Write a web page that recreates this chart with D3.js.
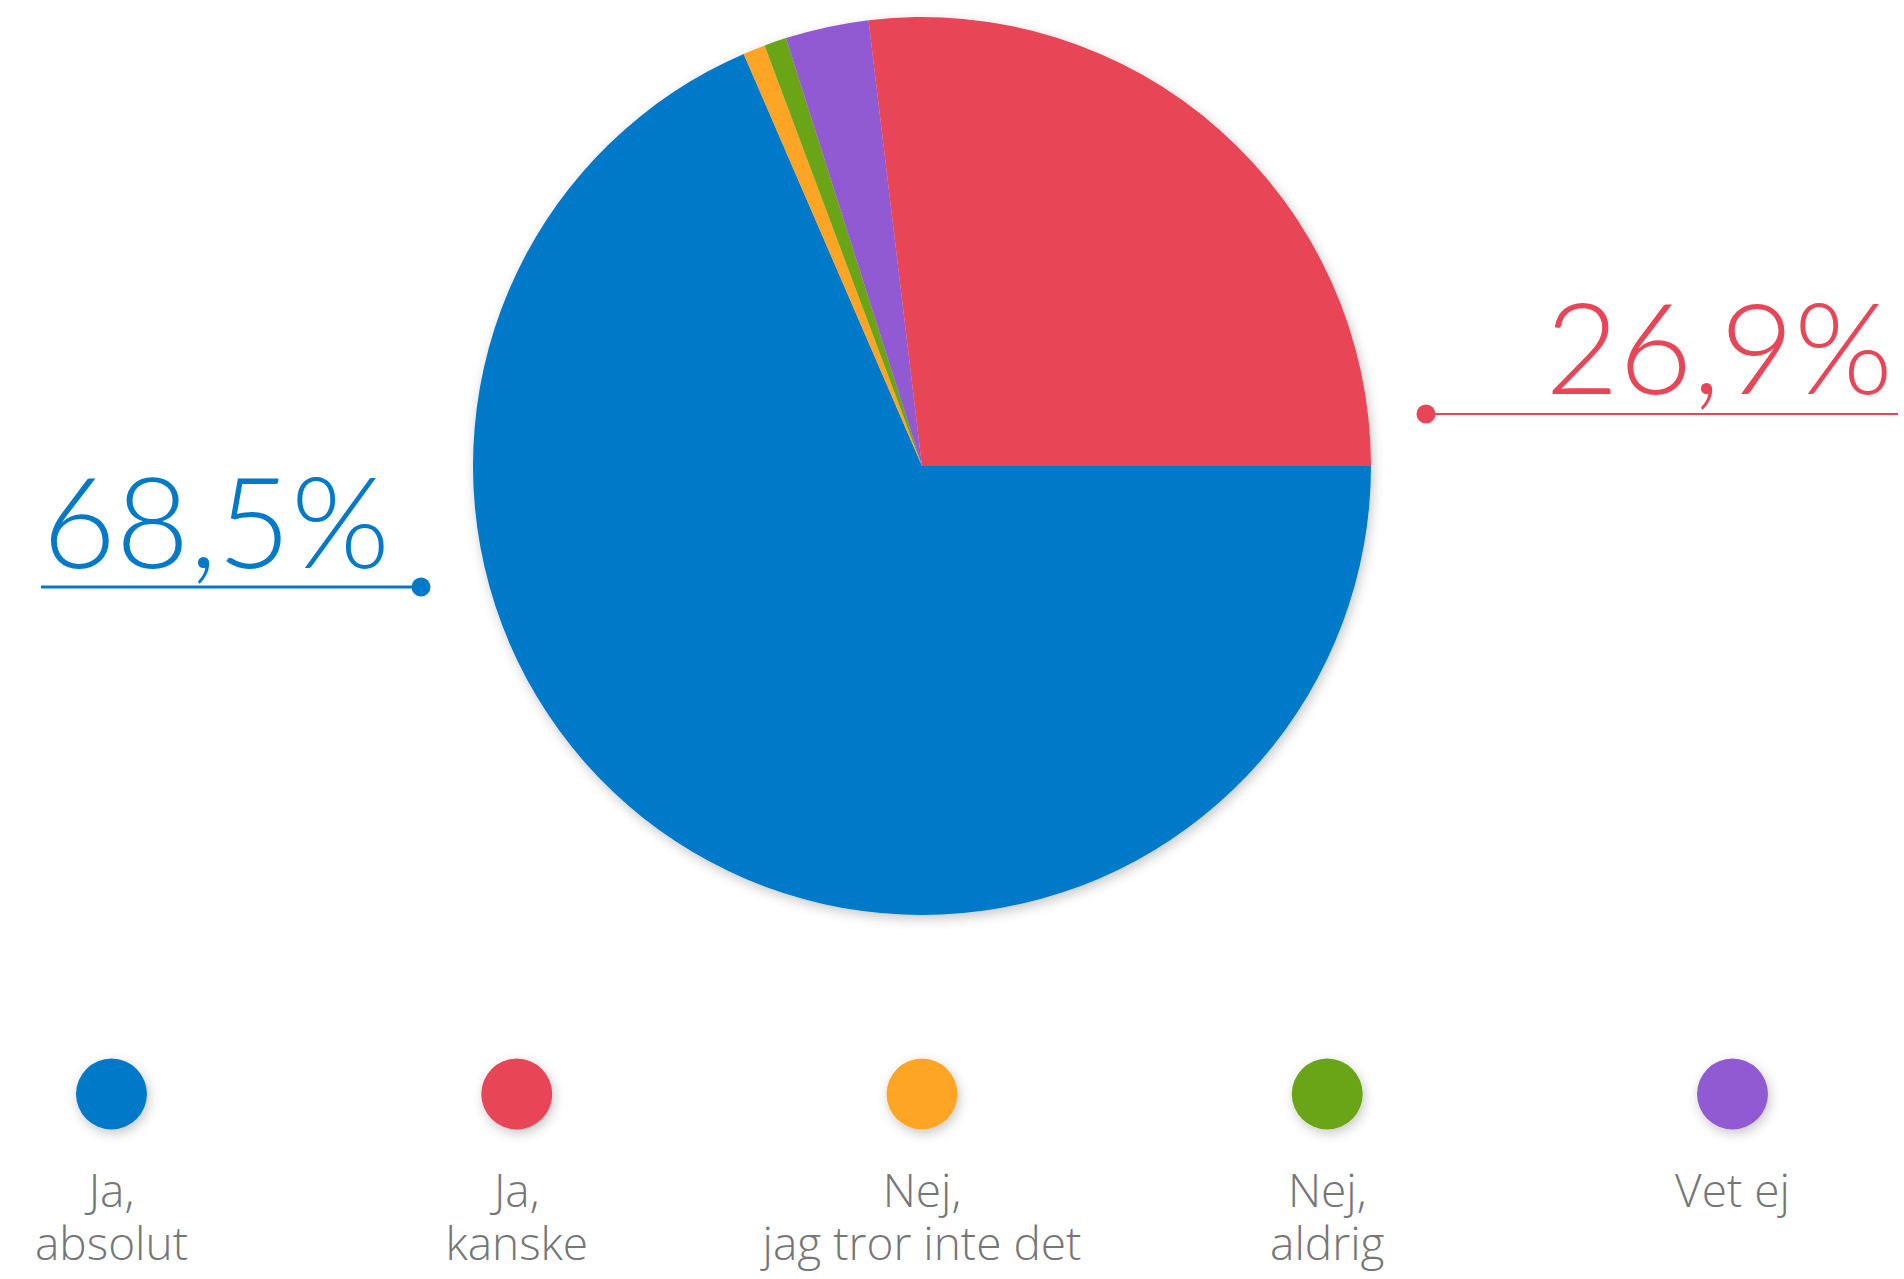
<!DOCTYPE html>
<html>
<head>
<meta charset="utf-8">
<script src="https://cdn.jsdelivr.net/npm/d3@7"></script>
<style>
  html, body { margin: 0; padding: 0; background: #fff; }
  svg { display: block; }
</style>
</head>
<body>
<div id="chart"></div>
<script>
// answers, in the order the slices run clockwise from 3 o'clock
const categories = ["Ja, absolut", "Nej, jag tror inte det", "Nej, aldrig", "Vet ej", "Ja, kanske"];
const values = [68.5, 0.8, 0.8, 3.0, 26.9];
const colors = ["#0279c9", "#ffa528", "#69a515", "#915ad2", "#e84557"];

// legend order and line breaks
const legendKeys = ["Ja, absolut", "Ja, kanske", "Nej, jag tror inte det", "Nej, aldrig", "Vet ej"];
const legendLines = [["Ja,", "absolut"], ["Ja,", "kanske"], ["Nej,", "jag tror inte det"], ["Nej,", "aldrig"], ["Vet ej"]];

const width = 1904, height = 1279;
const cx = 922, cy = 466, radius = 449;

const svg = d3.select("#chart").append("svg")
  .attr("width", width)
  .attr("height", height);

const defs = svg.append("defs");
defs.append("filter")
  .attr("id", "shadow")
  .attr("x", "-20%").attr("y", "-20%")
  .attr("width", "140%").attr("height", "140%")
  .append("feDropShadow")
  .attr("dx", 2).attr("dy", 4)
  .attr("stdDeviation", 6)
  .attr("flood-color", "#000")
  .attr("flood-opacity", 0.22);

const color = d3.scaleOrdinal().domain(categories).range(colors);

const pie = d3.pie()
  .sort(null)
  .value(d => d.value)
  .startAngle(Math.PI / 2)
  .endAngle(Math.PI / 2 + 2 * Math.PI);

const arc = d3.arc().innerRadius(0).outerRadius(radius);

const data = categories.map((c, i) => ({ name: c, value: values[i] }));

const pieGroup = svg.append("g")
  .attr("transform", `translate(${cx},${cy})`)
  .attr("filter", "url(#shadow)");

pieGroup.selectAll("path")
  .data(pie(data))
  .join("path")
  .attr("d", arc)
  .attr("fill", d => color(d.data.name));

// big percentage callouts
const fmt = v => d3.format(".1f")(v).replace(".", ",") + "%";

const callouts = [
  { name: "Ja, absolut", textX: 390, textY: 568, lineX1: 41, lineX2: 421, lineY: 587, width: 3 },
  { name: "Ja, kanske", textX: 1893, textY: 394, lineX1: 1426, lineX2: 1898, lineY: 414, width: 2 }
];

callouts.forEach(c => {
  const v = values[categories.indexOf(c.name)];
  const g = svg.append("g");
  g.append("line")
    .attr("x1", c.lineX1).attr("x2", c.lineX2)
    .attr("y1", c.lineY).attr("y2", c.lineY)
    .attr("stroke", color(c.name))
    .attr("stroke-width", c.width);
  g.append("circle")
    .attr("cx", c.name === "Ja, absolut" ? c.lineX2 : c.lineX1)
    .attr("cy", c.lineY)
    .attr("r", 9.5)
    .attr("fill", color(c.name));
  g.append("text")
    .attr("x", c.textX)
    .attr("y", c.textY)
    .attr("text-anchor", "end")
    .attr("font-family", "Lato, 'Open Sans', sans-serif")
    .attr("font-weight", 300)
    .attr("font-size", 127)
    .attr("fill", color(c.name))
    .text(fmt(v));
});

// legend
const legendX = d3.scalePoint()
  .domain(legendKeys)
  .range([111.5, 1732.5]);

const legend = svg.append("g")
  .selectAll("g")
  .data(legendKeys)
  .join("g")
  .attr("transform", d => `translate(${legendX(d)},0)`);

legend.append("circle")
  .attr("cy", 1094)
  .attr("r", 35.5)
  .attr("fill", d => color(d))
  .attr("filter", "url(#shadow)");

legend.append("text")
  .attr("text-anchor", "middle")
  .attr("font-family", "'Open Sans', sans-serif")
  .attr("font-weight", 300)
  .attr("font-size", 46)
  .attr("fill", "#767676")
  .each(function(d, i) {
    d3.select(this).selectAll("tspan")
      .data(legendLines[i])
      .join("tspan")
      .attr("x", 0)
      .attr("y", (t, j) => 1207 + j * 53)
      .text(t => t);
  });
</script>
</body>
</html>
